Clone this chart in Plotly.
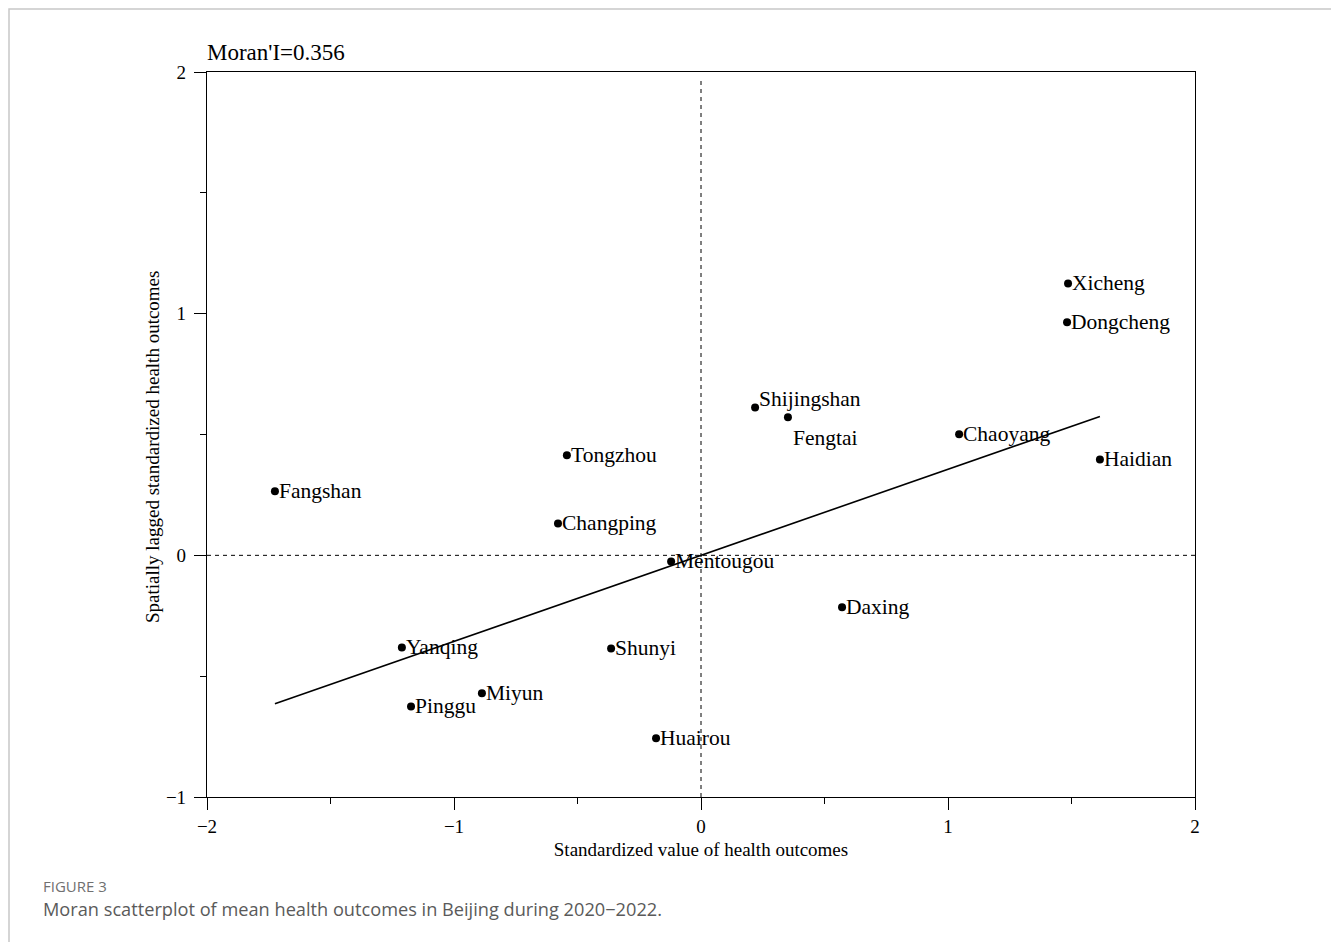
import plotly.graph_objects as go

districts = ["Xicheng", "Dongcheng", "Shijingshan", "Fengtai", "Chaoyang", "Haidian",
             "Tongzhou", "Fangshan", "Changping", "Mentougou", "Daxing", "Yanqing",
             "Shunyi", "Miyun", "Pinggu", "Huairou"]
z_values = [1.486, 1.482, 0.219, 0.352, 1.045, 1.615,
            -0.543, -1.725, -0.579, -0.121, 0.571, -1.211,
            -0.364, -0.887, -1.174, -0.182]
lag_values = [1.125, 0.964, 0.612, 0.571, 0.501, 0.397,
              0.414, 0.265, 0.132, -0.025, -0.215, -0.381,
              -0.385, -0.571, -0.625, -0.757]
morans_i = 0.356
x_ticks = [-2, -1, 0, 1, 2]
y_ticks = [-1, 0, 1, 2]

W, H = 1331, 942
ML, MR, MT, MB = 207, 136, 72, 145
PW, PH = W - ML - MR, H - MT - MB


def px(x):
    return (x - ML) / PW


def py(y):
    return (H - MB - y) / PH


serif = "Liberation Serif, Times New Roman, serif"

fig = go.Figure()

xmin, xmax = min(z_values), max(z_values)
fig.add_trace(go.Scatter(
    x=[xmin, xmax], y=[morans_i * xmin, morans_i * xmax],
    mode="lines", line=dict(color="black", width=1.6), hoverinfo="skip",
    showlegend=False))

fig.add_trace(go.Scatter(
    x=z_values, y=lag_values, mode="markers",
    marker=dict(color="black", size=8),
    showlegend=False))

# label offsets (pixels) for readability
shifts = {name: (2, 0) for name in districts}
shifts["Shijingshan"] = (2, 8)
shifts["Fengtai"] = (3, -21)

for name, xv, yv in zip(districts, z_values, lag_values):
    dx, dy = shifts[name]
    fig.add_annotation(x=xv, y=yv, xref="x", yref="y", text=name, showarrow=False,
                       xanchor="left", yanchor="middle", xshift=dx, yshift=dy,
                       font=dict(family=serif, size=21.5, color="black"))

fig.add_shape(type="line", x0=0, x1=0, y0=-1, y1=1.97, xref="x", yref="y",
              line=dict(color="black", width=1, dash="4px,4px"))
fig.add_shape(type="line", x0=-2, x1=2, y0=0, y1=0, xref="x", yref="y",
              line=dict(color="black", width=1, dash="4px,4px"))

# outer frame
fig.add_shape(type="rect", xref="paper", yref="paper",
              x0=px(9), x1=px(1340), y0=py(950), y1=py(9),
              line=dict(color="#c8c8c8", width=1.5), fillcolor="rgba(0,0,0,0)")

axis_common = dict(
    showline=True, linecolor="black", linewidth=1.2, mirror=True,
    ticks="outside", ticklen=12, tickwidth=1.2, tickcolor="black",
    showgrid=False, zeroline=False,
    tickfont=dict(family=serif, size=19, color="black"),
    minor=dict(dtick=0.5, ticks="outside", ticklen=6, tickwidth=1.2, tickcolor="black"),
)

fig.update_xaxes(range=[-2, 2], tickvals=x_ticks,
                 ticktext=[str(v).replace("-", "\u2212") for v in x_ticks],
                 title=dict(text="Standardized value of health outcomes",
                            font=dict(family=serif, size=19, color="black"), standoff=6),
                 **axis_common)
fig.update_yaxes(range=[-1, 2], tickvals=y_ticks,
                 ticktext=[str(v).replace("-", "\u2212") for v in y_ticks],
                 ticklabelstandoff=4,
                 **axis_common)

fig.add_annotation(text="Spatially lagged standardized health outcomes",
                   xref="paper", yref="paper", x=px(153), y=py(447),
                   xanchor="center", yanchor="middle", textangle=-90, showarrow=False,
                   font=dict(family=serif, size=19, color="black"))
fig.add_annotation(text="Moran'I=0.356", xref="paper", yref="paper",
                   x=px(205), y=py(53), xanchor="left", yanchor="middle",
                   showarrow=False, font=dict(family=serif, size=23, color="black"))
fig.add_annotation(text="FIGURE 3", xref="paper", yref="paper",
                   x=px(41), y=py(886), xanchor="left", yanchor="middle",
                   showarrow=False, font=dict(family="Open Sans", size=15, color="#707070"))
fig.add_annotation(text="Moran scatterplot of mean health outcomes in Beijing during 2020\u22122022.",
                   xref="paper", yref="paper",
                   x=px(41), y=py(909), xanchor="left", yanchor="middle",
                   showarrow=False, font=dict(family="Open Sans", size=18.2, color="#5a5a5a"))

fig.update_layout(width=W, height=H, margin=dict(l=ML, r=MR, t=MT, b=MB),
                  paper_bgcolor="white", plot_bgcolor="white")

fig.write_html("out.html")
